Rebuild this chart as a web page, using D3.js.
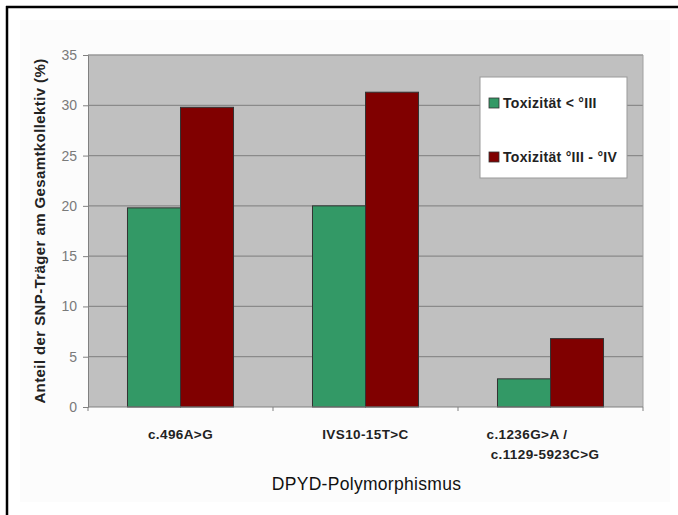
<!DOCTYPE html>
<html>
<head>
<meta charset="utf-8">
<script src="https://cdn.jsdelivr.net/npm/d3@7"></script>
<style>
  html, body { margin: 0; padding: 0; background: #fff; }
  svg { display: block; font-family: Arial, "Liberation Sans", sans-serif; }
  .xlabel { white-space: pre; }
</style>
</head>
<body>
<svg id="chart" width="678" height="515"></svg>
<script>
// DPYD polymorphisms and share of SNP carriers by toxicity grade
const categories = [["c.496A>G"], ["IVS10-15T>C"], ["c.1236G>A /", " c.1129-5923C>G"]];
const seriesNames = ["Toxizität < °III", "Toxizität °III - °IV"];
const lowTox = [19.8, 20.0, 2.8];
const highTox = [29.8, 31.3, 6.8];
const yTicks = [0, 5, 10, 15, 20, 25, 30, 35];
const colors = ["#339966", "#800000"];

const svg = d3.select("#chart");

// frame (top and left edges) and chart area
svg.append("rect").attr("x", 20).attr("y", 20).attr("width", 650).attr("height", 482)
  .attr("fill", "#fcfcfc");
svg.append("line").attr("x1", 6).attr("x2", 678).attr("y1", 7).attr("y2", 7)
  .attr("stroke", "#000").attr("stroke-width", 2.5);
svg.append("line").attr("x1", 7).attr("x2", 7).attr("y1", 6).attr("y2", 515)
  .attr("stroke", "#000").attr("stroke-width", 2.5);

const m = { left: 88, right: 643, top: 55, bottom: 407 };

const x0 = d3.scaleBand().domain(d3.range(categories.length))
  .range([m.left, m.right]).paddingInner(0).paddingOuter(0);
const x1 = d3.scaleBand().domain([0, 1])
  .range([0, x0.bandwidth()]).paddingInner(0).paddingOuter(0.745);
const y = d3.scaleLinear().domain([0, 35]).range([m.bottom, m.top]);

// plot background
svg.append("rect").attr("x", m.left).attr("y", m.top)
  .attr("width", m.right - m.left).attr("height", m.bottom - m.top)
  .attr("fill", "#c0c0c0");

// gridlines
svg.append("g").selectAll("line").data(yTicks.filter(t => t > 0)).join("line")
  .attr("x1", m.left).attr("x2", m.right)
  .attr("y1", d => y(d)).attr("y2", d => y(d))
  .attr("stroke", "#8a8a8a").attr("stroke-width", 1.2);

// plot area border (top and right side)
svg.append("line").attr("x1", m.right).attr("x2", m.right).attr("y1", m.top).attr("y2", m.bottom)
  .attr("stroke", "#a0a0a0").attr("stroke-width", 1);
svg.append("line").attr("x1", m.left).attr("x2", m.right).attr("y1", m.top).attr("y2", m.top)
  .attr("stroke", "#a0a0a0").attr("stroke-width", 1);

// bars
const data = categories.map((c, i) => [lowTox[i], highTox[i]]);
const groups = svg.append("g").selectAll("g").data(data).join("g")
  .attr("transform", (d, i) => `translate(${x0(i)},0)`);
groups.selectAll("rect").data(d => d).join("rect")
  .attr("x", (d, j) => x1(j))
  .attr("width", x1.bandwidth())
  .attr("y", d => y(d))
  .attr("height", d => y(0) - y(d))
  .attr("fill", (d, j) => colors[j])
  .attr("stroke", "#333").attr("stroke-width", 1);

// y axis
const yAxis = d3.axisLeft(y).tickValues(yTicks).tickSize(5).tickPadding(6);
const ya = svg.append("g").attr("transform", `translate(${m.left},0)`).call(yAxis);
ya.select(".domain").attr("stroke", "#808080");
ya.selectAll(".tick line").attr("stroke", "#808080");
ya.selectAll(".tick text").attr("fill", "#7a7a7a").attr("font-size", 14)
  .attr("font-family", "Arial, 'Liberation Sans', sans-serif");

// x axis with ticks between categories
const xa = svg.append("g").attr("transform", `translate(0,${m.bottom})`);
xa.append("line").attr("x1", m.left).attr("x2", m.right).attr("y1", 0).attr("y2", 0)
  .attr("stroke", "#808080");
xa.selectAll(".sep").data(d3.range(categories.length + 1)).join("line")
  .attr("x1", i => m.left + i * x0.bandwidth()).attr("x2", i => m.left + i * x0.bandwidth())
  .attr("y1", 0).attr("y2", 4).attr("stroke", "#808080");
// single-line labels are centred; the two-line label is left-aligned as a block
xa.selectAll("text").data(categories).join("text")
  .attr("class", "xlabel")
  .attr("x", (d, i) => x0(i) + x0.bandwidth() / 2 - (d.length > 1 ? 64 : 0))
  .attr("y", 32)
  .attr("text-anchor", d => d.length > 1 ? "start" : "middle")
  .attr("font-size", 13.5).attr("font-weight", "bold").attr("fill", "#222")
  .attr("letter-spacing", 0.4)
  .each(function (d) {
    const tx = d3.select(this).attr("x");
    d3.select(this).selectAll("tspan").data(d).join("tspan")
      .attr("x", tx)
      .attr("dy", (t, k) => k === 0 ? 0 : 20)
      .text(t => t);
  });

// axis titles
svg.append("text")
  .attr("transform", `translate(45,${(m.top + m.bottom) / 2}) rotate(-90)`)
  .attr("text-anchor", "middle")
  .attr("font-size", 15).attr("font-weight", "bold").attr("fill", "#222")
  .attr("letter-spacing", 0.4)
  .text("Anteil der SNP-Träger am Gesamtkollektiv (%)");
svg.append("text")
  .attr("x", (m.left + m.right) / 2 + 1).attr("y", 490)
  .attr("text-anchor", "middle")
  .attr("font-size", 17.5).attr("fill", "#111").attr("letter-spacing", 0.3)
  .text("DPYD-Polymorphismus");

// legend
const lg = svg.append("g").attr("transform", "translate(480,77)");
lg.append("rect").attr("width", 147).attr("height", 101)
  .attr("fill", "#fff").attr("stroke", "#999").attr("stroke-width", 1);
const items = lg.selectAll("g").data(seriesNames).join("g")
  .attr("transform", (d, i) => `translate(9,${26 + i * 54})`);
items.append("rect").attr("x", 0).attr("y", -5).attr("width", 10).attr("height", 10)
  .attr("fill", (d, i) => colors[i]).attr("stroke", "#333").attr("stroke-width", 0.8);
items.append("text").attr("x", 14).attr("y", 5)
  .attr("font-size", 14).attr("font-weight", "bold").attr("fill", "#222")
  .attr("letter-spacing", 0.3)
  .text(d => d);
</script>
</body>
</html>
